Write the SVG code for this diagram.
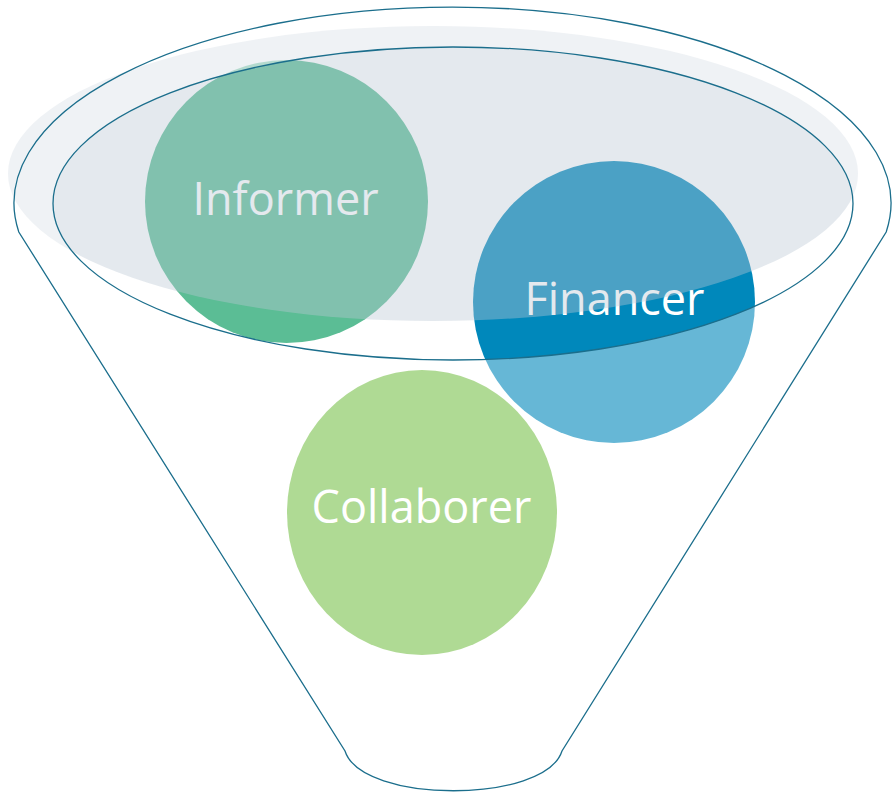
<svg xmlns="http://www.w3.org/2000/svg" width="892" height="794" viewBox="0 0 892 794">
  <style>
    .label { font-family: "Open Sans", "Noto Sans", "Liberation Sans", sans-serif; font-size: 45px; fill: #FFFFFF; text-anchor: middle; }
    .line { fill: none; stroke: #1B6E8C; stroke-width: 1.3; }
  </style>
  <rect x="0" y="0" width="892" height="794" fill="#FFFFFF"/>
  <g id="node-informer">
    <circle cx="286.5" cy="201.5" r="141.5" fill="#5BBD95"/>
    <text class="label" x="285.5" y="215">Informer</text>
  </g>
  <g id="node-financer">
    <circle cx="614" cy="302" r="141" fill="#0088BB"/>
    <text class="label" x="614.5" y="315">Financer</text>
  </g>
  <g id="node-collaborer">
    <ellipse cx="422" cy="512.5" rx="135" ry="142.5" fill="#7BC14D"/>
    <text class="label" x="421.5" y="523">Collaborer</text>
  </g>
  <g id="funnel">
    <ellipse cx="433" cy="173.5" rx="425" ry="147.5" fill="#BBC9D4" fill-opacity="0.4"/>
    <path fill="#FFFFFF" fill-opacity="0.4" fill-rule="evenodd" d="M0,0 H892 V794 H0 Z M53,203.5 A400,156.5 0 1 0 853,203.5 A400,156.5 0 1 0 53,203.5 Z"/>
    <ellipse class="line" cx="453" cy="203.5" rx="400" ry="156.5"/>
  </g>
  <g id="connectors">
    <path class="line" d="M18.8,232 A438.5,196 0 1 1 886.2,232 L562,751 C545,804 362,804 345,751 Z"/>
  </g>
</svg>
